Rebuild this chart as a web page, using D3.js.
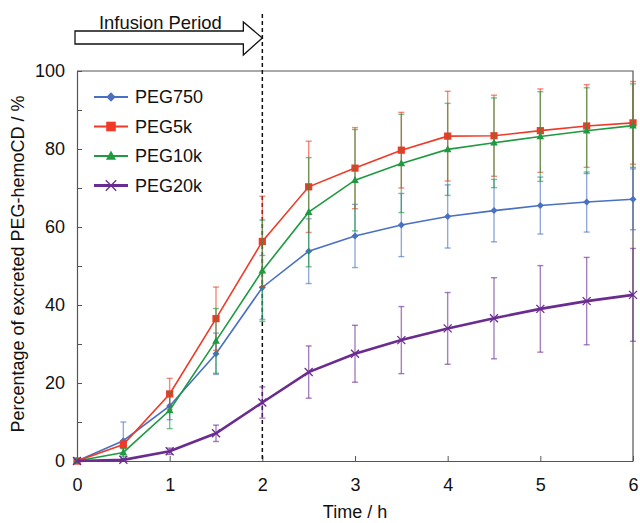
<!DOCTYPE html>
<html>
<head>
<meta charset="utf-8">
<script src="https://cdn.jsdelivr.net/npm/d3@7"></script>
<style>
  body { margin: 0; background: #fff; }
  text { font-family: "Liberation Sans", Arial, Helvetica, sans-serif; fill: #111; }
</style>
</head>
<body>
<div id="chart"></div>
<script>
// time points (h)
const times = [0, 0.5, 1, 1.5, 2, 2.5, 3, 3.5, 4, 4.5, 5, 5.5, 6];

// mean excreted % per series
const peg750 = [0, 5.2, 14.1, 27.5, 44.5, 53.8, 57.7, 60.5, 62.7, 64.2, 65.5, 66.4, 67.1];
const peg5k  = [0, 4.2, 17.2, 36.5, 56.3, 70.3, 75.1, 79.7, 83.3, 83.4, 84.7, 85.9, 86.7];
const peg10k = [0, 2.2, 13.0, 30.8, 48.8, 63.8, 72.0, 76.3, 79.9, 81.6, 83.2, 84.7, 86.0];
const peg20k = [0, 0.3, 2.5, 7.1, 15.0, 22.8, 27.5, 31.0, 34.0, 36.6, 39.0, 41.0, 42.6];

// error (SD) per series
const err750 = [0, 4.8, 3.5, 5.3, 8.2, 8.3, 8.1, 8.1, 8.1, 8.0, 7.3, 7.7, 7.8];
const err5k  = [0, 1.0, 4.0, 8.1, 11.6, 11.7, 10.4, 9.7, 11.5, 10.4, 10.7, 10.6, 10.6];
const err10k = [0, 1.0, 4.7, 8.3, 13.0, 14.0, 13.0, 12.6, 11.8, 11.5, 11.5, 11.0, 10.7];
const err20k = [0, 0.3, 0.8, 2.1, 4.0, 6.7, 7.3, 8.6, 9.2, 10.4, 11.1, 11.2, 11.9];

const seriesNames = ["PEG750", "PEG5k", "PEG10k", "PEG20k"];
const xTicks = [0, 1, 2, 3, 4, 5, 6];
const yTicks = [0, 10, 20, 30, 40, 50, 60, 70, 80, 90, 100];

const series = [
  {name: seriesNames[0], values: peg750, err: err750, color: "#4a70c2", marker: "diamond", lw: 1.6},
  {name: seriesNames[1], values: peg5k,  err: err5k,  color: "#ee3a26", marker: "square",  lw: 1.6},
  {name: seriesNames[2], values: peg10k, err: err10k, color: "#1f9a40", marker: "triangle", lw: 1.6},
  {name: seriesNames[3], values: peg20k, err: err20k, color: "#6b2c90", marker: "cross",   lw: 2.6}
];

const W = 640, H = 523;
const margin = {top: 71, left: 77, right: 7, bottom: 62};
const fontSize = "18px";

const svg = d3.select("#chart").append("svg")
  .attr("width", W).attr("height", H);

const x = d3.scaleLinear().domain([0, 6]).range([margin.left, W - margin.right]);
const y = d3.scaleLinear().domain([0, 100]).range([H - margin.bottom, margin.top]);

// frame (top + right)
svg.append("path")
  .attr("d", `M${x(0)},${y(100)}H${x(6)}V${y(0)}`)
  .attr("fill", "none").attr("stroke", "#555").attr("stroke-width", 1.2);

// axes, ticks pointing inward
const yAxis = svg.append("g")
  .attr("transform", `translate(${x(0)},0)`)
  .call(d3.axisLeft(y).tickValues(yTicks).tickSizeInner(-5).tickSizeOuter(0).tickPadding(12)
    .tickFormat(d => d % 20 === 0 ? d : ""));
const xAxis = svg.append("g")
  .attr("transform", `translate(0,${y(0)})`)
  .call(d3.axisBottom(x).tickValues(xTicks).tickSizeInner(-5).tickSizeOuter(0).tickPadding(17)
    .tickFormat(d3.format("d")));

[yAxis, xAxis].forEach(g => {
  g.select(".domain").attr("stroke", "#555").attr("stroke-width", 1.2);
  g.selectAll(".tick line").attr("stroke", "#555");
  g.selectAll("text").style("font-size", fontSize).attr("fill", "#111")
    .style("font-family", '"Liberation Sans", Arial, sans-serif');
});

// axis titles
svg.append("text")
  .attr("transform", `translate(24,${(y(0) + y(100)) / 2 - 2}) rotate(-90)`)
  .attr("text-anchor", "middle")
  .style("font-size", fontSize)
  .text("Percentage of excreted PEG-hemoCD / %");

svg.append("text")
  .attr("x", x(3)).attr("y", 518)
  .attr("text-anchor", "middle")
  .style("font-size", fontSize)
  .text("Time / h");

// infusion period arrow
const ax0 = x(0) - 2, ax1 = x(2), ahead = ax1 - 19;
svg.append("path")
  .attr("d", `M${ax0},31 H${ahead} V22 L${ax1},38 L${ahead},55 V44 H${ax0} Z`)
  .attr("fill", "#fff").attr("stroke", "#111").attr("stroke-width", 1.3);
svg.append("text")
  .attr("x", 99).attr("y", 29)
  .style("font-size", "18.4px")
  .text("Infusion Period");

// dashed end-of-infusion line
svg.append("line")
  .attr("x1", x(2)).attr("x2", x(2))
  .attr("y1", 14).attr("y2", y(0))
  .attr("stroke", "#111").attr("stroke-width", 1.5)
  .attr("stroke-dasharray", "4,3");

// marker drawing helper
function drawMarker(g, type, color, s) {
  if (type === "diamond") {
    g.append("path").attr("d", `M0,${-s}L${s},0L0,${s}L${-s},0Z`).attr("fill", color);
  } else if (type === "square") {
    g.append("rect").attr("x", -s).attr("y", -s).attr("width", 2 * s).attr("height", 2 * s).attr("fill", color);
  } else if (type === "triangle") {
    g.append("path").attr("d", `M0,${-s * 1.1}L${s},${s * 0.75}L${-s},${s * 0.75}Z`).attr("fill", color);
  } else {
    g.append("path").attr("d", `M${-s},${-s}L${s},${s}M${-s},${s}L${s},${-s}`)
      .attr("stroke", color).attr("stroke-width", 1.3).attr("fill", "none");
  }
}

const sizes = {diamond: 3.5, square: 3.6, triangle: 3.8, cross: 4};

series.forEach(s => {
  const pts = times.map((t, i) => ({t: t, v: s.values[i], e: s.err[i]}));
  const g = svg.append("g").attr("class", "series");

  // error bars
  const eb = g.selectAll(".eb").data(pts.filter(p => p.e > 0)).enter().append("g")
    .attr("stroke", s.color).attr("stroke-opacity", 0.6).attr("stroke-width", 1.4);
  eb.append("line")
    .attr("x1", d => x(d.t)).attr("x2", d => x(d.t))
    .attr("y1", d => y(d.v - d.e)).attr("y2", d => y(d.v + d.e));
  eb.append("line")
    .attr("x1", d => x(d.t) - 3).attr("x2", d => x(d.t) + 3)
    .attr("y1", d => y(d.v + d.e)).attr("y2", d => y(d.v + d.e));
  eb.append("line")
    .attr("x1", d => x(d.t) - 3).attr("x2", d => x(d.t) + 3)
    .attr("y1", d => y(d.v - d.e)).attr("y2", d => y(d.v - d.e));

  // line
  g.append("path").datum(pts)
    .attr("fill", "none").attr("stroke", s.color).attr("stroke-width", s.lw)
    .attr("d", d3.line().x(d => x(d.t)).y(d => y(d.v)));

  // markers
  g.selectAll(".mk").data(pts).enter().append("g")
    .attr("transform", d => `translate(${x(d.t)},${y(d.v)})`)
    .each(function () { drawMarker(d3.select(this), s.marker, s.color, sizes[s.marker]); });
});

// legend
const legend = svg.append("g").attr("class", "legend");
series.forEach((s, i) => {
  const ly = 97 + i * 29.5;
  const lg = legend.append("g").attr("transform", `translate(0,${ly})`);
  lg.append("line").attr("x1", 94).attr("x2", 128).attr("y1", 0).attr("y2", 0)
    .attr("stroke", s.color).attr("stroke-width", s.lw + 0.4);
  const m = lg.append("g").attr("transform", "translate(111,0)");
  drawMarker(m, s.marker, s.color, sizes[s.marker] + 1.2);
  lg.append("text").attr("x", 135).attr("y", 0).attr("dy", "0.36em")
    .style("font-size", fontSize).text(s.name);
});
</script>
</body>
</html>
